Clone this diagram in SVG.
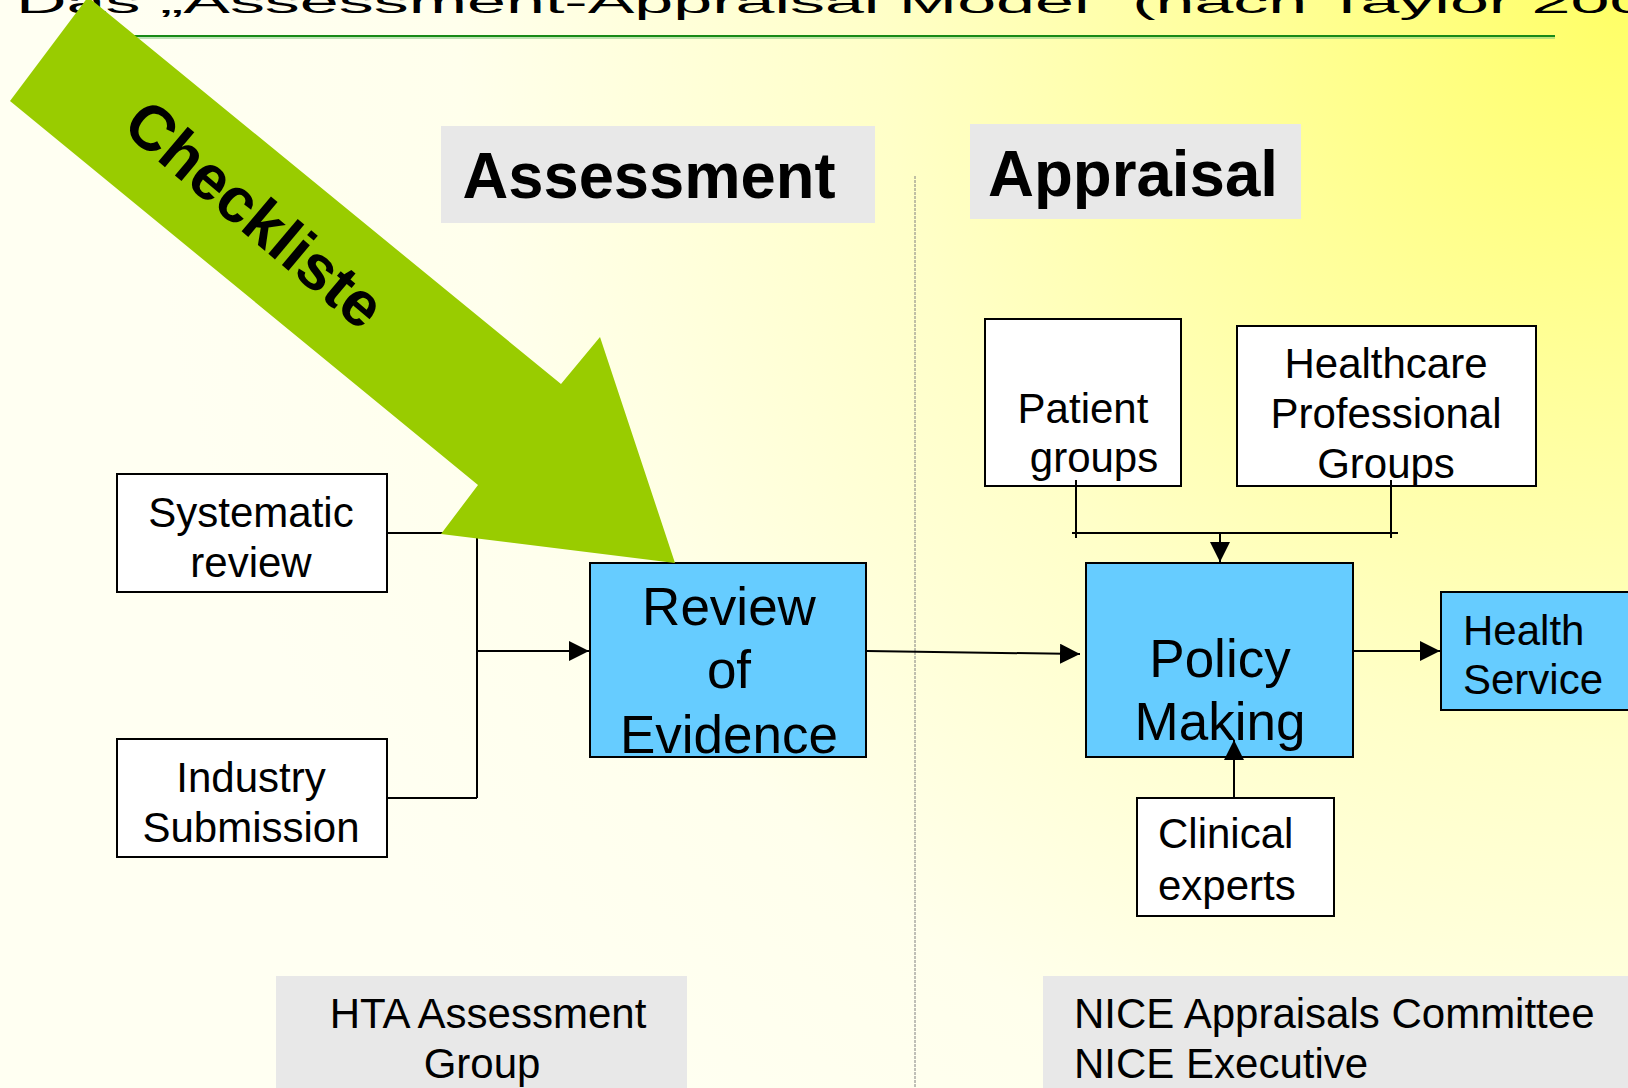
<svg xmlns="http://www.w3.org/2000/svg" width="1628" height="1088" viewBox="0 0 1628 1088">
  <defs>
    <radialGradient id="bg" cx="1628" cy="0" r="1500" gradientUnits="userSpaceOnUse">
      <stop offset="0" stop-color="#FFFF66"/>
      <stop offset="0.25" stop-color="#FFFF99"/>
      <stop offset="0.5" stop-color="#FFFFC8"/>
      <stop offset="0.78" stop-color="#FFFFEC"/>
      <stop offset="1" stop-color="#FFFFF2"/>
    </radialGradient>
    <marker id="arr" viewBox="0 0 10 10" refX="10" refY="5" markerWidth="20" markerHeight="20" markerUnits="userSpaceOnUse" orient="auto">
      <path d="M0,0 L10,5 L0,10 z" fill="#000"/>
    </marker>
    <style>
      .t { font-family: "Liberation Sans", Arial, sans-serif; fill: #000; }
      .sm { font-size: 42px; }
      .lg { font-size: 53px; }
      .hd { font-size: 64px; font-weight: bold; }
      .box { fill: #FFFFFF; stroke: #000; stroke-width: 2; }
      .blue { fill: #66CCFF; stroke: #000; stroke-width: 2; }
      .gray { fill: #E8E8E8; stroke: none; }
      .con { fill: none; stroke: #000; stroke-width: 2; }
    </style>
  </defs>

  <rect x="0" y="0" width="1628" height="1088" fill="url(#bg)"/>

  <!-- Title (clipped at top) -->
  <g id="title">
    <text class="t" font-size="70" transform="translate(16,13) scale(1,0.45)" x="0" y="0">Das „Assessment-Appraisal Model“ (nach Taylor 200</text>
    <line x1="133" y1="36" x2="1555" y2="36" stroke="#178A17" stroke-width="2"/>
    <line x1="133" y1="38" x2="1555" y2="38" stroke="#7CC47C" stroke-width="1"/>
  </g>

  <!-- Section headers -->
  <g id="assessment-header">
    <rect class="gray" x="441" y="126" width="434" height="97"/>
    <text class="t hd" x="649" y="198" text-anchor="middle" textLength="373" lengthAdjust="spacingAndGlyphs">Assessment</text>
  </g>
  <g id="appraisal-header">
    <rect class="gray" x="970" y="124" width="331" height="95"/>
    <text class="t hd" x="1133" y="196" text-anchor="middle" textLength="290" lengthAdjust="spacingAndGlyphs">Appraisal</text>
  </g>

  <!-- Divider -->
  <line id="divider" x1="915" y1="176" x2="915" y2="1088" stroke="#808080" stroke-width="1" stroke-dasharray="3 1"/>

  <!-- Nodes -->
  <g id="systematic-review">
    <rect class="box" x="117" y="474" width="270" height="118"/>
    <text class="t sm" x="251" y="527" text-anchor="middle">Systematic</text>
    <text class="t sm" x="251" y="577" text-anchor="middle">review</text>
  </g>
  <g id="industry-submission">
    <rect class="box" x="117" y="739" width="270" height="118"/>
    <text class="t sm" x="251" y="792" text-anchor="middle">Industry</text>
    <text class="t sm" x="251" y="842" text-anchor="middle">Submission</text>
  </g>
  <g id="review-of-evidence">
    <rect class="blue" x="590" y="563" width="276" height="194"/>
    <text class="t lg" x="729" y="625" text-anchor="middle">Review</text>
    <text class="t lg" x="729" y="688" text-anchor="middle">of</text>
    <text class="t lg" x="729" y="753" text-anchor="middle">Evidence</text>
  </g>
  <g id="patient-groups">
    <rect class="box" x="985" y="319" width="196" height="167"/>
    <text class="t sm" x="1083" y="423" text-anchor="middle">Patient</text>
    <text class="t sm" x="1094" y="472" text-anchor="middle">groups</text>
  </g>
  <g id="healthcare-professional-groups">
    <rect class="box" x="1237" y="326" width="299" height="160"/>
    <text class="t sm" x="1386" y="378" text-anchor="middle">Healthcare</text>
    <text class="t sm" x="1386" y="428" text-anchor="middle">Professional</text>
    <text class="t sm" x="1386" y="478" text-anchor="middle">Groups</text>
  </g>
  <g id="policy-making">
    <rect class="blue" x="1086" y="563" width="267" height="194"/>
    <text class="t lg" x="1220" y="677" text-anchor="middle">Policy</text>
    <text class="t lg" x="1220" y="740" text-anchor="middle">Making</text>
  </g>
  <g id="health-service">
    <rect class="blue" x="1441" y="592" width="200" height="118"/>
    <text class="t sm" x="1463" y="645">Health</text>
    <text class="t sm" x="1463" y="694">Service</text>
  </g>
  <g id="clinical-experts">
    <rect class="box" x="1137" y="798" width="197" height="118"/>
    <text class="t sm" x="1158" y="848">Clinical</text>
    <text class="t sm" x="1158" y="900">experts</text>
  </g>
  <g id="hta-assessment-group">
    <rect class="gray" x="276" y="976" width="411" height="120"/>
    <text class="t sm" x="488" y="1028" text-anchor="middle">HTA Assessment</text>
    <text class="t sm" x="482" y="1078" text-anchor="middle">Group</text>
  </g>
  <g id="nice">
    <rect class="gray" x="1043" y="976" width="600" height="120"/>
    <text class="t sm" x="1074" y="1028">NICE Appraisals Committee</text>
    <text class="t sm" x="1074" y="1078">NICE Executive</text>
  </g>

  <!-- Connectors -->
  <g id="connectors">
    <path class="con" d="M387,533 H477 M387,798 H477 M477,533 V798"/>
    <path class="con" d="M477,651 H589" marker-end="url(#arr)"/>
    <path class="con" d="M867,651 L1080,654" marker-end="url(#arr)"/>
    <path class="con" d="M1354,651 H1440" marker-end="url(#arr)"/>
    <path class="con" d="M1076,480 V538 M1391,480 V538 M1072,533 H1398"/>
    <path class="con" d="M1220,533 V562" marker-end="url(#arr)"/>
    <path class="con" d="M1234,797 V740" marker-end="url(#arr)"/>
  </g>

  <!-- Checkliste arrow -->
  <g id="checkliste">
    <polygon points="88,-3 561,384 600,337 675,563 441,534 478,485 10,101" fill="#99CC00"/>
    <text class="t" font-size="63" font-weight="bold" text-anchor="middle" transform="translate(255,214) rotate(40)" x="0" y="22">Checkliste</text>
  </g>
</svg>
